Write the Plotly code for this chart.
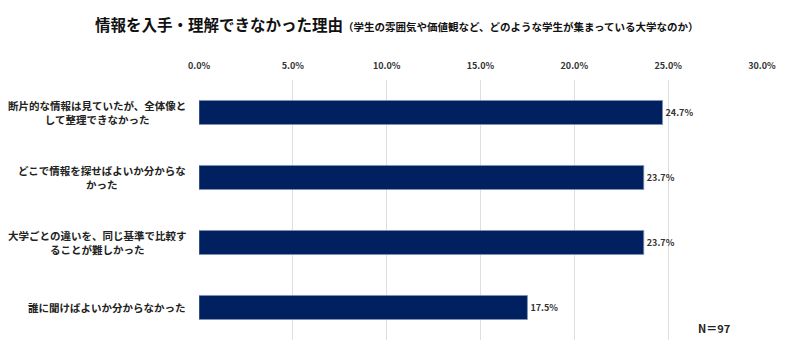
import plotly.graph_objects as go

categories = [
    "断片的な情報は見ていたが、全体像と<br>して整理できなかった",
    "どこで情報を探せばよいか分からな<br>かった",
    "大学ごとの違いを、同じ基準で比較す<br>ることが難しかった",
    "誰に聞けばよいか分からなかった",
]
values = [24.7, 23.7, 23.7, 17.5]
tick_vals = [0, 5, 10, 15, 20, 25, 30]
tick_text = ["0.0%", "5.0%", "10.0%", "15.0%", "20.0%", "25.0%", "30.0%"]
title_main = "情報を入手・理解できなかった理由"
title_sub = "（学生の雰囲気や価値観など、どのような学生が集まっている大学なのか）"
n_label = "N＝97"

FONT = "Noto Sans CJK JP"

fig = go.Figure()
fig.add_trace(go.Bar(
    y=list(range(len(categories))),
    x=values,
    orientation="h",
    width=0.37,
    marker=dict(color="#002060", line=dict(color="#7f93b8", width=0.8)),
    text=[f"{v:.1f}%" for v in values],
    textposition="outside",
    cliponaxis=False,
    textfont=dict(family=FONT, size=9, color="#333333", weight="bold"),
    hoverinfo="skip",
))

for i, c in enumerate(categories):
    fig.add_annotation(
        x=0, xref="paper", xshift=-11, y=i, yref="y",
        text=c, showarrow=False, xanchor="right", yanchor="middle",
        align="center",
        font=dict(family=FONT, size=10.5, color="#222222", weight="bold"),
    )

fig.add_annotation(
    x=0.352, xref="paper", y=1, yref="paper", yshift=56,
    text=f"<b>{title_main}</b><span style='font-size:10.5px'><b>{title_sub}</b></span>",
    showarrow=False, xanchor="center", yanchor="middle",
    font=dict(family=FONT, size=15.5, color="#111111"),
)

fig.add_annotation(
    x=0.915, xref="paper", y=0.046, yref="paper",
    text=n_label, showarrow=False, xanchor="center", yanchor="middle",
    font=dict(family=FONT, size=11, color="#222222", weight="bold"),
)

fig.update_layout(
    width=800, height=354,
    margin=dict(l=199, r=38, t=80, b=14),
    paper_bgcolor="white", plot_bgcolor="white",
    showlegend=False,
    bargap=0.6,
    xaxis=dict(
        range=[0, 30], side="top",
        tickvals=tick_vals, ticktext=tick_text,
        tickfont=dict(family=FONT, size=9, color="#333333", weight="bold"),
        showgrid=True, gridcolor="#dedede", gridwidth=1,
        zeroline=False, showline=False, ticks="", ticklabelstandoff=8,
        fixedrange=True,
    ),
    yaxis=dict(
        range=[3.5, -0.5], showticklabels=False, showgrid=False,
        zeroline=False, showline=False, ticks="", fixedrange=True,
    ),
)

fig.write_html("out.html")
